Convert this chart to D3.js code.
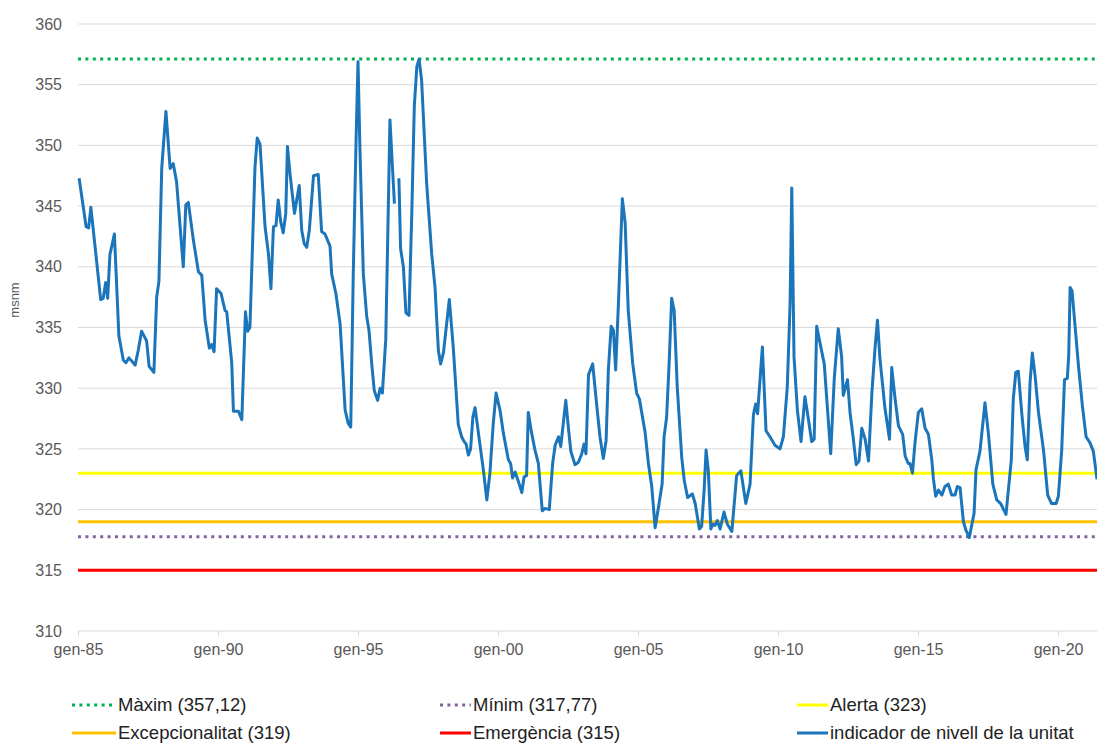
<!doctype html>
<html lang="ca">
<head>
<meta charset="UTF-8" />
<title>Indicador de nivell de la unitat</title>
<script src="https://cdn.jsdelivr.net/npm/d3@7"></script>
<style>
  body { margin: 0; background: #fff; }
  text { font-family: "Liberation Sans", Arial, sans-serif; }
</style>
</head>
<body>
<svg id="chart" width="1097" height="744"></svg>
<script>
// data (decimal year, msnm); null = gap in the record
const years = [
  1985.04,1985.29,1985.38,1985.46,1985.81,1985.90,1985.99,1986.06,1986.14,1986.30,1986.46,1986.62,1986.71,1986.82,
  1987.04,1987.15,1987.27,1987.45,1987.54,1987.71,1987.81,1987.89,1987.99,1988.14,1988.29,1988.40,1988.52,1988.76,
  1988.85,1988.94,1989.12,1989.30,1989.42,1989.54,1989.69,1989.77,1989.86,1989.95,1990.11,1990.25,1990.31,1990.49,
  1990.55,1990.73,1990.85,1990.98,1991.06,1991.14,1991.32,1991.40,1991.50,1991.68,1991.80,1991.89,1991.98,1992.07,
  1992.15,1992.24,1992.33,1992.42,1992.48,1992.57,1992.73,1992.81,1992.90,1992.99,1993.08,1993.17,1993.26,1993.41,
  1993.58,1993.70,1993.82,1994.00,1994.06,1994.21,1994.36,1994.54,1994.65,1994.74,1994.83,1994.93,1995.00,1995.07,
  1995.19,1995.31,1995.39,1995.49,1995.58,1995.70,1995.79,1995.87,1995.99,1996.06,1996.14,1996.23,1996.30,1996.38,
  1996.46,1996.52,1996.62,1996.71,1996.82,1996.92,1997.01,1997.10,1997.18,1997.27,1997.45,1997.63,1997.75,1997.87,
  1997.95,1998.05,1998.26,1998.40,1998.58,1998.70,1998.79,1998.86,1998.94,1999.02,1999.10,1999.18,1999.30,1999.48,
  1999.60,1999.71,1999.83,1999.93,2000.07,2000.19,2000.37,2000.45,2000.52,2000.61,2000.73,2000.85,2000.93,2001.02,
  2001.08,2001.20,2001.32,2001.44,2001.50,2001.58,2001.68,2001.83,2001.95,2002.04,2002.16,2002.24,2002.33,2002.42,
  2002.51,2002.60,2002.75,2002.87,2002.99,2003.07,2003.14,2003.23,2003.38,2003.52,2003.64,2003.76,2003.86,2003.94,
  2004.04,2004.12,2004.20,2004.30,2004.44,2004.54,2004.65,2004.81,2004.95,2005.05,2005.25,2005.37,2005.49,2005.61,
  2005.73,2005.86,2005.93,2006.02,2006.11,2006.20,2006.29,2006.40,2006.56,2006.65,2006.77,2006.94,2007.04,2007.19,
  2007.27,2007.36,2007.43,2007.51,2007.60,2007.67,2007.75,2007.83,2007.93,2008.07,2008.19,2008.35,2008.52,2008.67,
  2008.85,2009.00,2009.12,2009.20,2009.27,2009.44,2009.57,2009.71,2009.89,2010.07,2010.19,2010.33,2010.43,2010.49,
  2010.57,2010.69,2010.82,2010.96,2011.08,2011.20,2011.29,2011.38,2011.50,2011.65,2011.88,2012.01,2012.15,2012.27,
  2012.33,2012.48,2012.57,2012.69,2012.79,2012.89,2012.99,2013.11,2013.23,2013.35,2013.46,2013.55,2013.64,2013.82,
  2013.98,2014.06,2014.18,2014.30,2014.45,2014.54,2014.65,2014.71,2014.80,2014.89,2015.01,2015.13,2015.25,2015.37,
  2015.49,2015.55,2015.63,2015.73,2015.85,2015.96,2016.08,2016.20,2016.32,2016.40,2016.50,2016.62,2016.71,2016.83,
  2017.00,2017.07,2017.21,2017.39,2017.51,2017.67,2017.81,2017.95,2018.14,2018.33,2018.40,2018.49,2018.58,2018.70,
  2018.82,2018.90,2019.00,2019.08,2019.18,2019.30,2019.48,2019.63,2019.77,2019.93,2020.01,2020.13,2020.23,2020.33,
  2020.38,2020.43,2020.50,2020.73,2020.87,2021.00,2021.14,2021.26,2021.39
];
const levels = [
  347.3,343.3,343.2,344.9,337.3,337.4,338.7,337.4,341.0,342.7,334.3,332.3,332.1,332.5,
  331.9,333.1,334.7,333.9,331.8,331.3,337.5,338.8,348.1,352.8,348.1,348.5,347.0,340.0,
  345.1,345.3,342.2,339.6,339.3,335.6,333.3,333.6,333.0,338.2,337.8,336.4,336.3,332.1,
  328.1,328.1,327.4,336.3,334.7,335.0,348.2,350.6,350.1,343.3,341.1,338.2,343.3,343.4,
  345.5,343.7,342.8,344.4,349.9,347.7,344.4,345.5,346.7,343.0,341.9,341.6,343.0,347.5,
  347.6,342.9,342.7,341.7,339.4,337.8,335.3,328.2,327.1,326.8,339.4,350.4,356.9,349.6,
  339.4,335.9,334.8,332.0,329.8,329.0,330.0,329.6,334.0,342.2,352.1,348.2,345.2,null,
  347.3,341.5,340.0,336.2,336.0,344.4,353.2,356.5,357.1,355.4,346.9,341.1,338.3,333.1,
  332.0,332.9,337.3,333.4,327.0,326.0,325.6,325.4,324.5,325.0,327.6,328.4,326.3,323.2,
  320.8,323.0,327.1,329.6,328.2,326.3,324.1,323.8,322.6,323.1,322.3,321.4,322.7,322.8,
  328.0,326.3,324.9,323.8,322.1,319.9,320.1,320.0,323.8,325.3,326.0,325.2,327.1,329.0,
  326.8,324.8,323.7,323.9,324.6,325.4,324.6,331.1,332.0,328.7,326.0,324.2,325.7,331.5,
  335.1,334.8,331.5,337.0,345.6,343.6,336.4,332.0,329.6,329.1,326.4,323.8,321.9,318.5,
  320.2,322.1,326.0,327.6,332.0,337.4,336.4,330.1,324.3,322.4,321.0,321.3,320.5,318.4,
  318.6,321.6,324.9,323.2,318.4,318.8,318.7,319.1,318.4,319.8,318.8,318.2,322.8,323.2,
  320.5,322.1,327.8,328.7,327.9,333.4,326.5,326.0,325.3,325.0,326.0,330.1,337.0,346.5,
  332.6,328.2,325.6,329.3,327.5,325.6,325.8,335.1,333.7,332.0,324.6,330.9,334.9,332.6,
  329.4,330.7,328.0,325.8,323.7,324.0,326.7,325.8,324.0,329.6,333.2,335.6,332.4,328.3,
  325.8,331.7,329.1,326.9,326.2,324.4,323.8,323.8,323.0,325.5,328.0,328.3,326.7,326.2,
  324.1,322.5,321.1,321.6,321.2,321.9,322.1,321.2,321.2,321.9,321.8,319.0,318.3,317.7,
  319.7,323.3,324.8,328.8,326.3,322.1,320.8,320.5,319.6,324.1,329.1,331.3,331.4,328.0,
  325.2,324.1,330.5,332.9,331.0,328.0,324.9,321.2,320.5,320.5,321.1,324.9,330.7,330.8,
  332.7,338.3,338.0,331.8,328.5,326.0,325.5,324.8,322.5
];

// reference levels
const refNames = ["Màxim (357,12)", "Mínim (317,77)", "Alerta (323)", "Excepcionalitat (319)", "Emergència (315)"];
const refValues = [357.12, 317.77, 323, 319, 315];
const seriesName = "indicador de nivell de la unitat";

const yTicks = [310, 315, 320, 325, 330, 335, 340, 345, 350, 355, 360];
const xTicks = [1985, 1990, 1995, 2000, 2005, 2010, 2015, 2020];

// styles
const refColors = ["#00b050", "#8064a2", "#ffff00", "#ffc000", "#ff0000"];
const refDash = ["3,4.4", "3,4.4", null, null, null];
const lineColor = "#1b75bb";

const svg = d3.select("#chart");
const mLeft = 78, mRight = 1097, mTop = 24, mBottom = 631;

const x = d3.scaleLinear().domain([1985, 2021.39]).range([mLeft, mRight]);
const y = d3.scaleLinear().domain([310, 360]).range([mBottom, mTop]);

// grid
svg.append("g").selectAll("line").data(yTicks.slice(1)).join("line")
  .attr("x1", mLeft).attr("x2", mRight)
  .attr("y1", d => y(d)).attr("y2", d => y(d))
  .attr("stroke", "#d9d9d9").attr("stroke-width", 1);

// y labels
svg.append("g").selectAll("text").data(yTicks).join("text")
  .attr("x", 62).attr("y", d => y(d)).attr("dy", "0.35em")
  .attr("text-anchor", "end").attr("font-size", 16).attr("fill", "#595959")
  .text(d => d);

// x axis
const xAxis = svg.append("g").attr("transform", `translate(0,${mBottom})`)
  .call(d3.axisBottom(x).tickValues(xTicks).tickSize(5).tickPadding(8)
    .tickFormat(d => "gen-" + String(d).slice(2)));
xAxis.select(".domain").attr("stroke", "#d9d9d9").attr("d", `M${mLeft},0H${mRight}`);
xAxis.selectAll(".tick line").attr("stroke", "#d9d9d9");
xAxis.selectAll(".tick text").attr("font-size", 16).attr("fill", "#595959")
  .attr("font-family", "Liberation Sans, Arial, sans-serif");

// y title
svg.append("text").attr("transform", "translate(19,300) rotate(-90)")
  .attr("text-anchor", "middle").attr("font-size", 13).attr("fill", "#595959")
  .text("msnm");

// reference lines
svg.append("g").selectAll("line").data(refValues).join("line")
  .attr("x1", mLeft).attr("x2", mRight)
  .attr("y1", d => y(d)).attr("y2", d => y(d))
  .attr("stroke", (d, i) => refColors[i])
  .attr("stroke-width", 3)
  .attr("stroke-dasharray", (d, i) => refDash[i]);

// level series
const points = years.map((t, i) => ({ t, v: levels[i] }));
const line = d3.line().defined(d => d.v != null).x(d => x(d.t)).y(d => y(d.v));
svg.append("path").datum(points)
  .attr("d", line).attr("fill", "none")
  .attr("stroke", lineColor).attr("stroke-width", 3)
  .attr("stroke-linejoin", "round");

// legend
const legendItems = [
  { name: refNames[0], color: refColors[0], dash: refDash[0] },
  { name: refNames[1], color: refColors[1], dash: refDash[1] },
  { name: refNames[2], color: refColors[2], dash: refDash[2] },
  { name: refNames[3], color: refColors[3], dash: refDash[3] },
  { name: refNames[4], color: refColors[4], dash: refDash[4] },
  { name: seriesName, color: lineColor, dash: null }
];
const colX = [72, 440, 797];
const colW = [44, 31, 31];
const rowY = [705, 733];
const lg = svg.append("g").selectAll("g").data(legendItems).join("g")
  .attr("transform", (d, i) => `translate(${colX[i % 3]},${rowY[Math.floor(i / 3)]})`);
lg.append("line")
  .attr("x2", (d, i) => colW[i % 3])
  .attr("stroke", d => d.color).attr("stroke-width", 3)
  .attr("stroke-dasharray", d => d.dash);
lg.append("text")
  .attr("x", (d, i) => colW[i % 3] + 2).attr("dy", "0.35em")
  .attr("font-size", 18.5).attr("fill", "#222")
  .text(d => d.name);
</script>
</body>
</html>
